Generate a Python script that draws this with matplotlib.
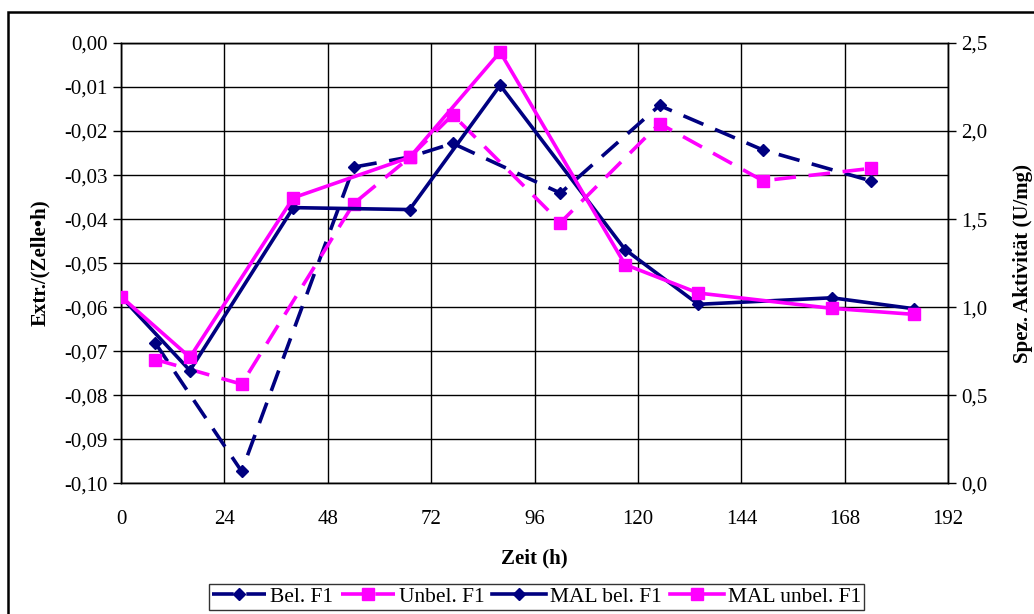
import matplotlib
matplotlib.use("Agg")
import matplotlib.pyplot as plt
from matplotlib.patches import Rectangle
from matplotlib.ticker import FuncFormatter, MultipleLocator

# ---- data ----
x_bel = [8, 28, 54, 67, 77, 102, 125, 149, 174]
bel_f1 = [-0.0682, -0.0973, -0.0282, -0.0259, -0.0228, -0.0341, -0.0142, -0.0243, -0.0313]

x_unbel = [8, 28, 54, 67, 77, 102, 125, 149, 174]
unbel_f1 = [-0.0719, -0.0775, -0.0365, -0.0260, -0.0163, -0.0408, -0.0183, -0.0313, -0.0285]

x_mal_bel = [0, 16, 40, 67, 88, 117, 134, 165, 184]
mal_bel_f1 = [1.06, 0.64, 1.565, 1.554, 2.26, 1.327, 1.016, 1.053, 0.991]

x_mal_unbel = [0, 16, 40, 67, 88, 117, 134, 165, 184]
mal_unbel_f1 = [1.06, 0.715, 1.621, 1.85, 2.449, 1.242, 1.08, 0.993, 0.959]

x_ticks = [0, 24, 48, 72, 96, 120, 144, 168, 192]

navy = "#000080"
magenta = "#FF00FF"

plt.rcParams["font.family"] = ["Liberation Serif", "DejaVu Serif"]

fig = plt.figure(figsize=(10.34, 6.14), dpi=100)
ax = fig.add_axes([0.117, 0.213, 0.800, 0.717])
ax2 = ax.twinx()

lw = 2.6
dash = (6, 3.5)
l1, = ax.plot(x_bel, bel_f1, color=navy, lw=lw, dashes=dash, marker="D", ms=6, label="Bel. F1", zorder=3)
l2, = ax.plot(x_unbel, unbel_f1, color=magenta, lw=lw, dashes=dash, marker="s", ms=8, label="Unbel. F1", zorder=3)
l3, = ax2.plot(x_mal_bel, mal_bel_f1, color=navy, lw=lw, marker="D", ms=6, label="MAL bel. F1", zorder=3)
l4, = ax2.plot(x_mal_unbel, mal_unbel_f1, color=magenta, lw=lw, marker="s", ms=8, label="MAL unbel. F1", zorder=3)

ax.set_xlim(0, 192)
ax.set_ylim(-0.10, 0.0)
ax2.set_ylim(0.0, 2.5)
ax.set_xticks(x_ticks)
ax.yaxis.set_major_locator(MultipleLocator(0.01))
ax2.yaxis.set_major_locator(MultipleLocator(0.5))

ax.yaxis.set_major_formatter(FuncFormatter(lambda v, p: f"{v:.2f}".replace(".", ",").replace("-0,00", "0,00")))
ax2.yaxis.set_major_formatter(FuncFormatter(lambda v, p: f"{v:.1f}".replace(".", ",")))

ax.grid(True, color="black", lw=1.0)
ax.set_axisbelow(True)
for a in (ax, ax2):
    a.tick_params(labelsize=15, direction="out", length=6, width=1)
    for s in a.spines.values():
        s.set_linewidth(1.0)
ax.tick_params(axis="x", length=0, pad=19)

ax.set_xlabel("Zeit (h)", fontsize=15, fontweight="bold", labelpad=14)
ax.set_ylabel("Extr./(Zelle•h)", fontsize=15, fontweight="bold", labelpad=10)
ax2.set_ylabel("Spez. Aktivität (U/mg)", fontsize=15, fontweight="bold", labelpad=18)

leg = fig.legend(handles=[l1, l2, l3, l4], loc="center", bbox_to_anchor=(0.519, 0.028),
                 ncol=4, fontsize=15.5, frameon=True, fancybox=False, edgecolor="black",
                 handlelength=2.5, handletextpad=0.2, columnspacing=0.35, borderpad=0.15,
                 borderaxespad=0)
leg.get_frame().set_linewidth(1.0)

fig.patches.append(Rectangle((8 / 1034, -0.1), 1.2, (1 - 12 / 614) + 0.1,
                             transform=fig.transFigure, fill=False, lw=1.8, ec="black"))

fig.savefig("out.png", dpi=100)
